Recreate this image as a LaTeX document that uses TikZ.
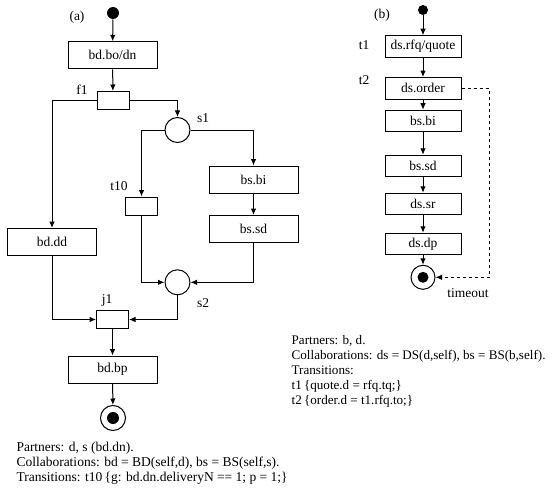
\documentclass[tikz,border=0pt]{standalone}
\usepackage{fontspec}
\setmainfont{Liberation Serif}
\usetikzlibrary{arrows.meta}
\begin{document}
\begin{tikzpicture}[x=1pt,y=-1pt,
  font=\fontsize{13.5}{15}\selectfont,
  line width=1pt,
  arr/.style={-{Latex[length=6.5pt,width=5.5pt]}},
  act/.style={draw,rectangle,inner sep=0pt,minimum width=89pt,minimum height=27pt},
  actb/.style={draw,rectangle,inner sep=0pt,minimum width=76pt,minimum height=21.5pt},
  trans/.style={draw,rectangle,inner sep=0pt,minimum width=32pt,minimum height=18pt},
  place/.style={draw,circle,inner sep=0pt,minimum size=25pt},
  startdot/.style={fill,circle,inner sep=0pt,minimum size=12pt},
  lbl/.style={inner sep=0pt}]
\useasboundingbox (0,0) rectangle (552,495);
% ---------- (a) ----------
\node[lbl] (la) at (77,17) {(a)};
\node[startdot] (sa) at (113,13) {};
\node[act] (bobd) at (112.5,55.3) {bd.bo/dn};
\node[trans] (f1) at (113,100.5) {};
\node[lbl] (lf1) at (82,90) {f1};
\node[place] (s1) at (177.5,130) {};
\node[lbl] (ls1) at (203,118) {s1};
\node[act] (bsbi) at (253.5,179.5) {bs.bi};
\node[act] (bssd) at (253.5,229) {bs.sd};
\node[trans] (t10) at (141.5,206) {};
\node[lbl] (lt10) at (119,186) {t10};
\node[act] (bddd) at (52,242) {bd.dd};
\node[place] (s2) at (177.5,282.3) {};
\node[lbl] (ls2) at (203,303) {s2};
\node[trans] (j1) at (112.5,319.5) {};
\node[lbl] (lj1) at (107,300) {j1};
\node[act] (bdbp) at (112.5,369.5) {bd.bp};
\node[place] (ea) at (113,418) {};
\node[startdot] (ead) at (ea.center) {};
\draw[arr] (sa) -- (bobd);
\draw[arr] (bobd) -- (f1);
\draw[arr] (f1.west) -| (bddd.north);
\draw[arr] (f1.east) -| (s1.north);
\draw[arr] (s1.west) -| (t10.north);
\draw[arr] (s1.east) -| (bsbi.north);
\draw[arr] (bsbi) -- (bssd);
\draw[arr] (t10.south) |- (s2.west);
\draw[arr] (bssd.south) |- (s2.east);
\draw[arr] (bddd.south) |- (j1.west);
\draw[arr] (s2.south) |- (j1.east);
\draw[arr] (j1) -- (bdbp);
\draw[arr] (bdbp) -- (ea);
\node[lbl,anchor=west,align=left] (ta) at (16,463) {Partners: d, s (bd.dn).\\Collaborations: bd = BD(self,d), bs = BS(self,s).\\Transitions: t10\,\{g: bd.dn.deliveryN == 1; p = 1;\}};
% ---------- (b) ----------
\node[lbl] (lb) at (382,15) {(b)};
\node[startdot,minimum size=10pt] (sb) at (423,10) {};
\node[actb] (rfq) at (423,46.5) {ds.rfq/quote};
\node[lbl] (lt1) at (364,45) {t1};
\node[actb] (order) at (423,88.3) {ds.order};
\node[lbl] (lt2) at (364,80) {t2};
\node[actb] (bbi) at (423,121) {bs.bi};
\node[actb] (bsd) at (423,166) {bs.sd};
\node[actb] (dssr) at (423,204) {ds.sr};
\node[actb] (dsdp) at (423,244) {ds.dp};
\node[place,minimum size=24pt] (eb) at (423,277.3) {};
\node[startdot,minimum size=11pt] (ebd) at (eb.center) {};
\node[lbl] (lto) at (468,293.5) {timeout};
\coordinate (dc) at (489,88.3);
\draw[arr] (sb) -- (rfq);
\draw[arr] (rfq) -- (order);
\draw[arr] (order) -- (bbi);
\draw[arr] (bbi) -- (bsd);
\draw[arr] (bsd) -- (dssr);
\draw[arr] (dssr) -- (dsdp);
\draw[arr] (dsdp) -- (eb);
\draw[arr,dashed] (order.east) -- (dc) |- (eb.east);
\node[lbl,anchor=west,align=left,font=\fontsize{13.1}{15}\selectfont] (tb) at (291.2,371.7) {Partners: b, d.\\Collaborations: ds = DS(d,self), bs = BS(b,self).\\Transitions:\\t1\,\{quote.d = rfq.tq;\}\\t2\,\{order.d = t1.rfq.to;\}};
\end{tikzpicture}
\end{document}
